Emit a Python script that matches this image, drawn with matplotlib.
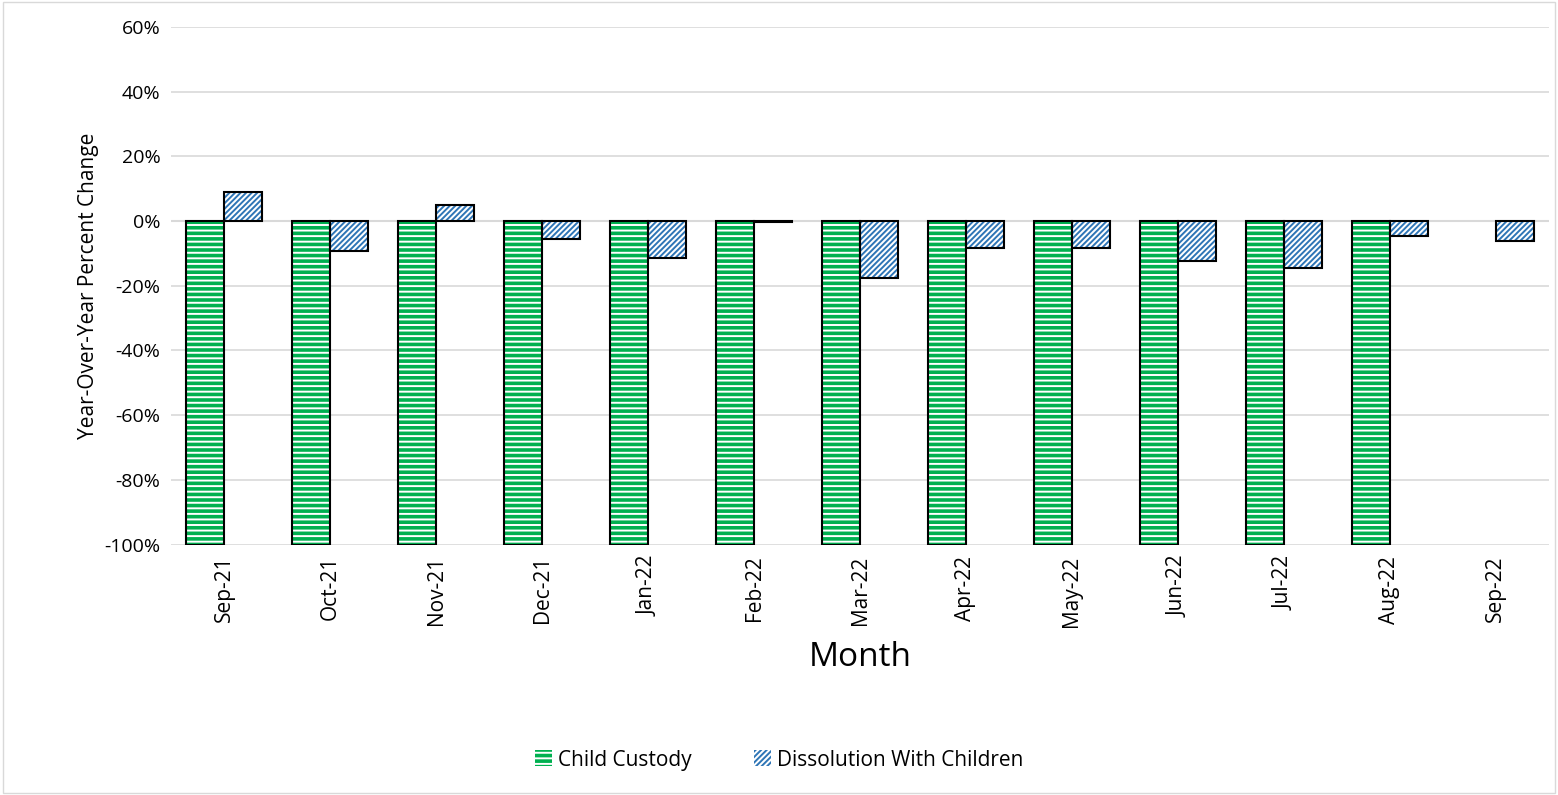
import numpy as np
import matplotlib.pyplot as plt
from matplotlib.patches import Patch

months = ["Sep-21", "Oct-21", "Nov-21", "Dec-21", "Jan-22", "Feb-22", "Mar-22",
          "Apr-22", "May-22", "Jun-22", "Jul-22", "Aug-22", "Sep-22"]
child_custody = [-100, -100, -100, -100, -100, -100, -100, -100, -100, -100, -100, -100, np.nan]
dissolution = [9.0, -9.3, 5.0, -5.5, -11.5, -0.3, -17.6, -8.3, -8.3, -12.3, -14.5, -4.6, -6.2]

plt.rcParams["font.family"] = ["Open Sans", "DejaVu Sans"]
plt.rcParams["hatch.linewidth"] = 1.4

fig = plt.figure(figsize=(15.58, 7.95), dpi=100)
ax = fig.add_axes([0.11, 0.315, 0.884, 0.651])
fig.patches.append(plt.Rectangle((0.002, 0.002), 0.996, 0.996, transform=fig.transFigure,
                                 fill=False, edgecolor="#d9d9d9", lw=1))

x = np.arange(len(months))
w = 0.36
green = "#00b050"
blue = "#2e75b6"
# fill + hatch, then black outline on top
ax.bar(x - w / 2, child_custody, w, color=green, hatch="---", edgecolor="white", lw=0, zorder=2)
ax.bar(x - w / 2, child_custody, w, fill=False, edgecolor="black", lw=1.5, zorder=3)
ax.bar(x + w / 2, dissolution, w, color="white", hatch="//////", edgecolor=blue, lw=0, zorder=2)
ax.bar(x + w / 2, dissolution, w, fill=False, edgecolor="black", lw=1.5, zorder=3)

ax.set_ylim(-100, 60)
ax.set_yticks(range(-100, 61, 20))
ax.set_yticklabels([f"{v}%" for v in range(-100, 61, 20)], fontsize=14)
ax.set_xlim(-0.5, len(months) - 0.5)
ax.set_xticks(x)
ax.set_xticklabels(months, rotation=90, fontsize=15)
ax.tick_params(axis="both", length=0, pad=8)
ax.grid(axis="y", color="#d9d9d9", lw=1.2, zorder=0)
ax.axhline(0, color="#d9d9d9", lw=1.5, zorder=1)
for s in ax.spines.values():
    s.set_visible(False)
ax.set_ylabel("Year-Over-Year Percent Change", fontsize=15)
ax.set_xlabel("Month", fontsize=24, labelpad=10)

handles = [Patch(facecolor=green, hatch="---", edgecolor="white"),
           Patch(facecolor="white", hatch="//////", edgecolor=blue)]
leg = fig.legend(handles, ["Child Custody", "Dissolution With Children"], loc="center",
                 bbox_to_anchor=(0.5, 0.044), ncol=2, frameon=False, fontsize=15,
                 handlelength=0.8, handleheight=0.8, columnspacing=3, handletextpad=0.3)
for p in leg.get_patches():
    p.set_linewidth(0)

fig.savefig("out.png", dpi=100)
